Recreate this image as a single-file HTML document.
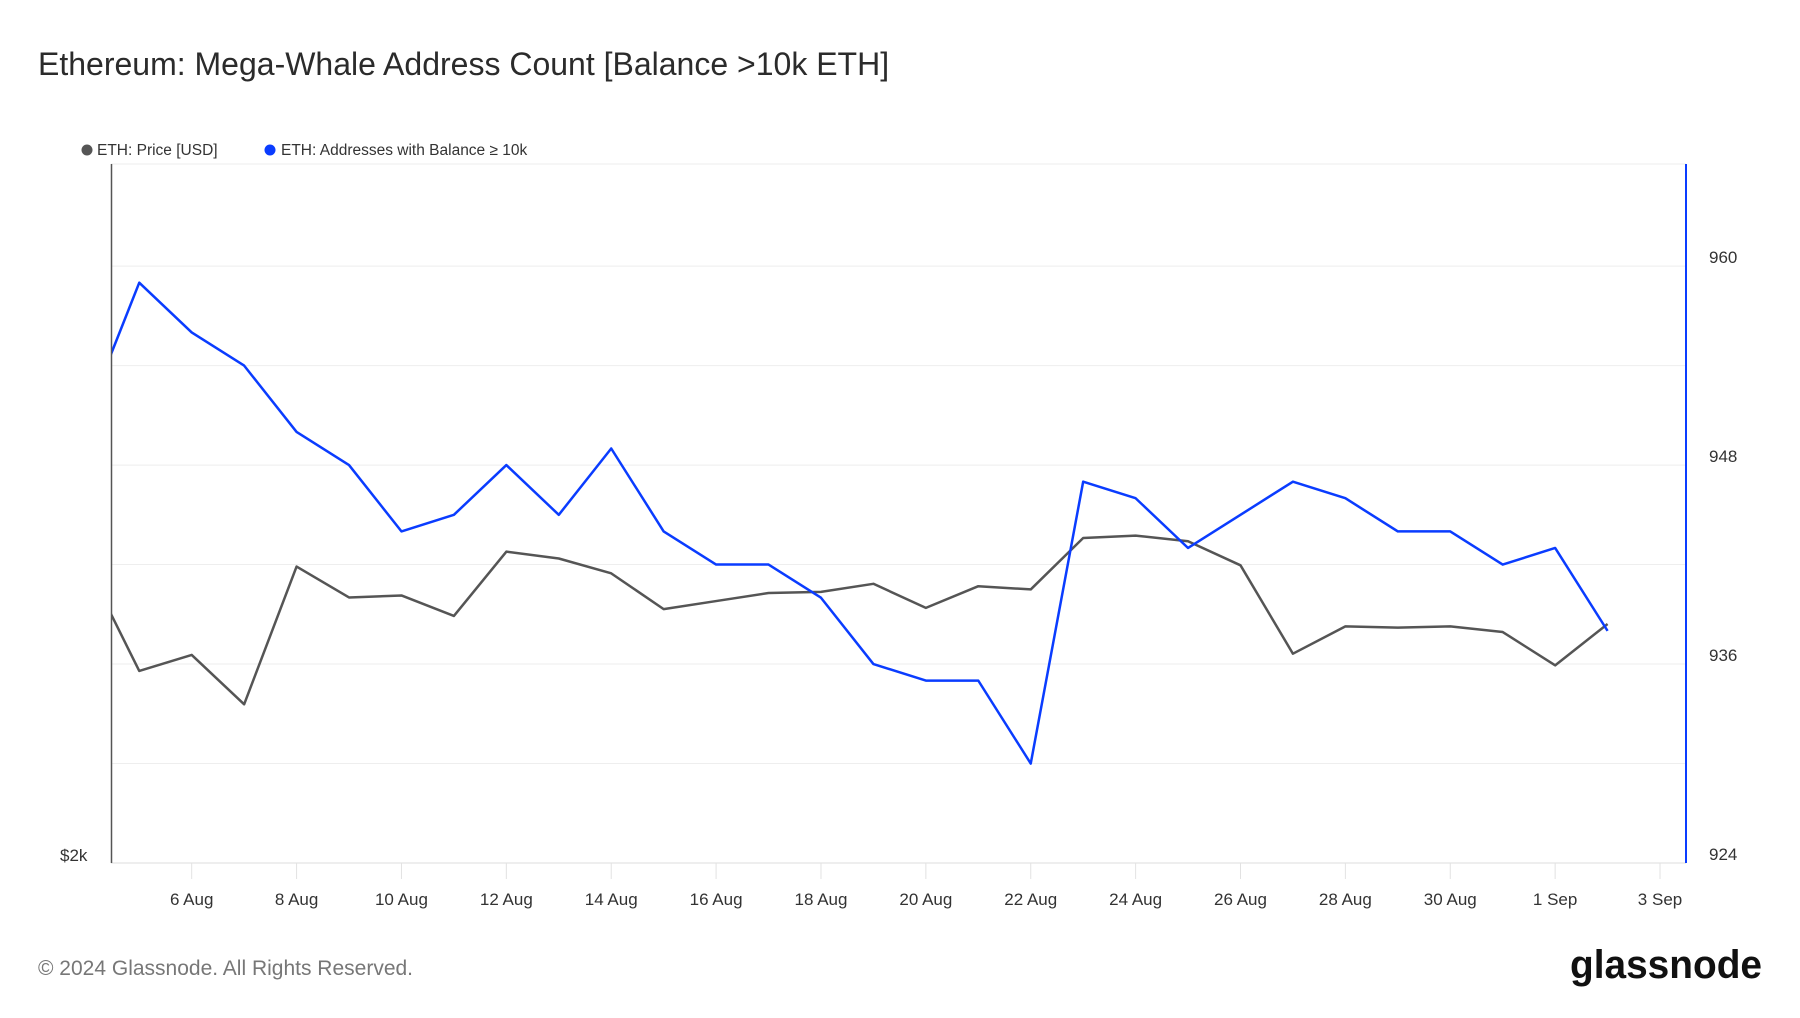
<!DOCTYPE html>
<html><head><meta charset="utf-8">
<style>
html,body{margin:0;padding:0;background:#fff;}
body{width:1800px;height:1013px;overflow:hidden;font-family:"Liberation Sans",sans-serif;}
</style></head>
<body>
<svg id="chart" width="1800" height="1013" xmlns="http://www.w3.org/2000/svg" font-family="Liberation Sans, sans-serif">
<text x="38" y="75" font-size="32" fill="#2b2b2b">Ethereum: Mega-Whale Address Count [Balance &gt;10k ETH]</text>
<g>
<g><circle cx="87" cy="150" r="5.5" fill="#555"/><text x="97" y="155" font-size="15.5" fill="#333">ETH: Price [USD]</text></g>
<g><circle cx="270" cy="150" r="5.5" fill="#0a3cff"/><text x="281" y="155" font-size="15.5" fill="#333">ETH: Addresses with Balance ≥ 10k</text></g>
</g>
<g id="grid"></g>
<g id="xaxis"></g>
<g id="yright"></g>
<clipPath id="clip"><rect x="111" y="164" width="1575" height="699"/></clipPath>
<g id="series" clip-path="url(#clip)"></g>
<line x1="111.5" y1="164" x2="111.5" y2="863" stroke="#555" stroke-width="1.5"/>
<line x1="1686" y1="164" x2="1686" y2="863" stroke="#0a3cff" stroke-width="2"/>
<text x="60" y="861" font-size="17" fill="#333">$2k</text>
<text x="38" y="975" font-size="21" fill="#777">© 2024 Glassnode. All Rights Reserved.</text>
<text x="1570" y="978" font-size="40" font-weight="600" fill="#111" textLength="192" lengthAdjust="spacingAndGlyphs">glassnode</text>
</svg>
<script>
const dates = ["4 Aug","5 Aug","6 Aug","7 Aug","8 Aug","9 Aug","10 Aug","11 Aug","12 Aug","13 Aug","14 Aug","15 Aug","16 Aug","17 Aug","18 Aug","19 Aug","20 Aug","21 Aug","22 Aug","23 Aug","24 Aug","25 Aug","26 Aug","27 Aug","28 Aug","29 Aug","30 Aug","31 Aug","1 Sep","2 Sep"];
const addresses = [951,959,956,954,950,948,944,945,948,945,949,944,942,942,940,936,935,935,930,947,946,943,945,947,946,944,944,942,943,938];
const price = [2741,2478,2518,2395,2738,2661,2666,2615,2775,2758,2721,2632,2652,2672,2675,2695,2635,2689,2681,2809,2815,2801,2741,2521,2589,2586,2589,2575,2492,2595];
const xTickLabels = ["6 Aug","8 Aug","10 Aug","12 Aug","14 Aug","16 Aug","18 Aug","20 Aug","22 Aug","24 Aug","26 Aug","28 Aug","30 Aug","1 Sep","3 Sep"];
const rightTicks = [924,936,948,960];
const gridVals = [930,936,942,948,954,960];

const NS="http://www.w3.org/2000/svg";
const top_=164,bot=863,L=111,R=1686;
const dayW=52.44, x0=191.7-2*dayW;
function xDay(i){return x0+i*dayW;}
function yR(v){return bot-(v-924)*16.58;}
function yL(v){return bot-(v-2000)*(bot-top_)/(3740-2000);}
function mk(t,a,p){const e=document.createElementNS(NS,t);for(const k in a)e.setAttribute(k,a[k]);p.appendChild(e);return e;}

const grid=document.getElementById('grid');
mk('line',{x1:L,x2:R,y1:top_,y2:top_,stroke:'#eee'},grid);
mk('line',{x1:L,x2:R,y1:bot,y2:bot,stroke:'#ddd'},grid);
gridVals.forEach(v=>{const l=mk('line',{x1:L,x2:R,y1:yR(v),y2:yR(v),stroke:'#eee'},grid);

});

const yr=document.getElementById('yright');
rightTicks.forEach(v=>{const t=mk('text',{x:1709,y:yR(v)-3,'font-size':17,fill:'#333'},yr);t.textContent=v;

});

const xa=document.getElementById('xaxis');
xTickLabels.forEach((lab,k)=>{const x=xDay(2+2*k);
mk('line',{x1:x,x2:x,y1:bot,y2:bot+16,stroke:'#e2e2e2'},xa);
const t=mk('text',{x:x,y:905,'font-size':17,fill:'#333','text-anchor':'middle'},xa);t.textContent=lab;

});

const s=document.getElementById('series');
const p1=mk('polyline',{points:price.map((v,i)=>xDay(i)+','+yL(v)).join(' '),fill:'none',stroke:'#555','stroke-width':2.5,'stroke-linejoin':'round'},s);


const p2=mk('polyline',{points:addresses.map((v,i)=>xDay(i)+','+yR(v)).join(' '),fill:'none',stroke:'#0a3cff','stroke-width':2.5,'stroke-linejoin':'round'},s);


</script>
</body></html>
